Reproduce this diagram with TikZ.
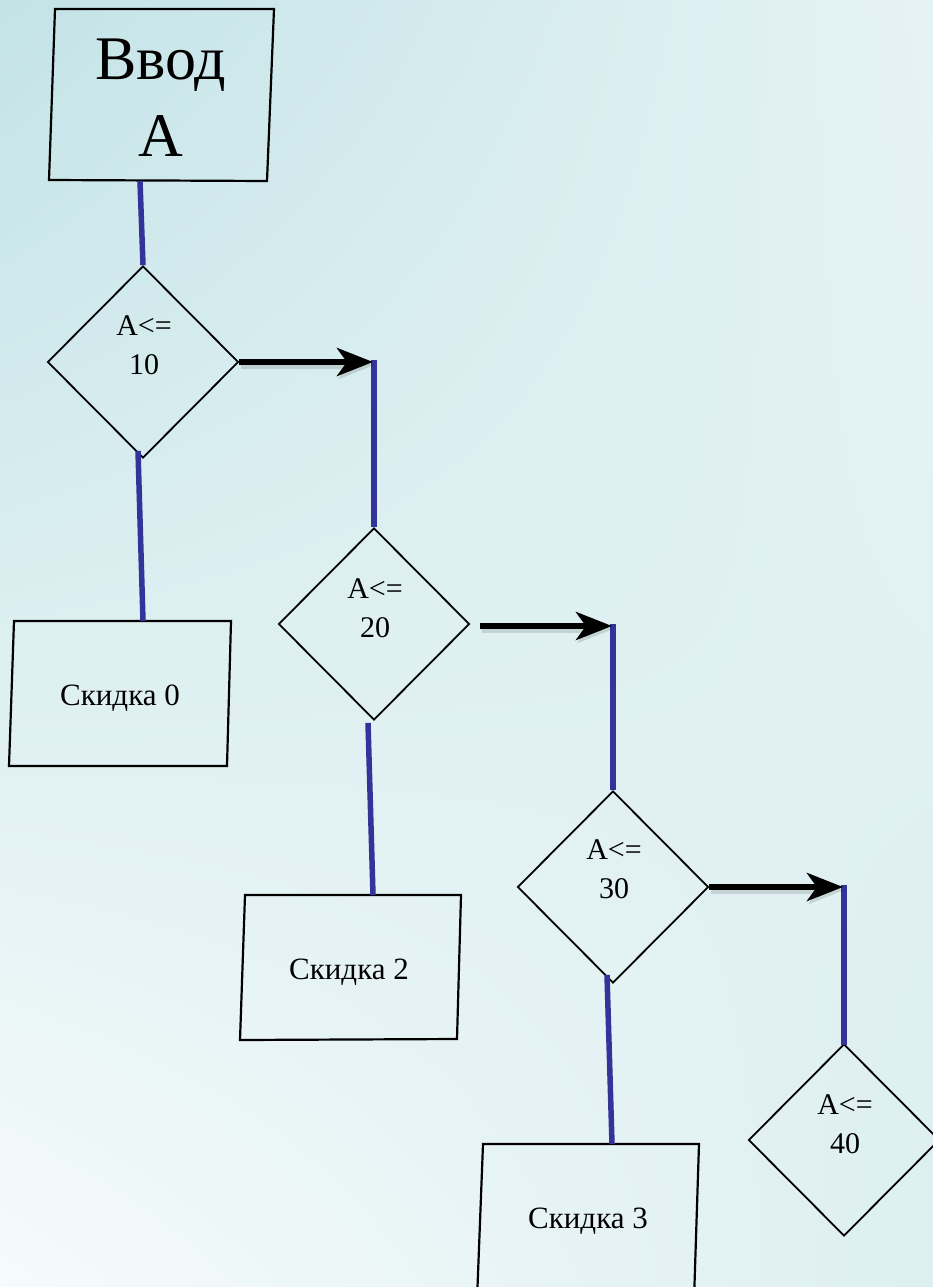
\documentclass[tikz,border=0pt]{standalone}
\usepackage{fontspec}
\setmainfont{Liberation Serif}
\usetikzlibrary{arrows.meta,shapes.geometric,shadings}
\definecolor{bgTL}{HTML}{C3E3E7}
\definecolor{bgTR}{HTML}{E6F3F5}
\definecolor{bgBL}{HTML}{F6FBFB}
\definecolor{bgBR}{HTML}{DDEFF1}
\definecolor{lineblue}{HTML}{333399}
\begin{document}
\begin{tikzpicture}[x=1pt,y=-1pt,
  blueline/.style={draw=lineblue, line width=5.5pt},
  flowarrow/.style={draw=black, line width=6pt, -{Stealth[length=36pt,width=28pt,inset=10pt]},
     preaction={draw=black, opacity=0.12, line width=8pt, transform canvas={shift={(1.5pt,-3pt)}}}},
  boxline/.style={draw=black, line width=2.2pt, line join=miter},
  decision/.style={diamond, draw=black, line width=1.8pt, minimum width=191pt, minimum height=192pt, inner sep=0pt, aspect=1},
  bigtxt/.style={font=\fontsize{62}{77}\selectfont, align=center, anchor=base, inner sep=0pt},
  condtxt/.style={font=\fontsize{30}{39}\selectfont, align=center, anchor=base, inner sep=0pt},
  boxtxt/.style={font=\fontsize{31}{37}\selectfont, anchor=base, inner sep=0pt}]
\useasboundingbox (0,0) rectangle (933,1287);
\shade[upper left=bgTL, upper right=bgTR, lower left=bgBL, lower right=bgBR] (0,0) rectangle (933,1287);

% input box
\coordinate (inTL) at (55,9);
\coordinate (inTR) at (274,9);
\coordinate (inBR) at (267,181);
\coordinate (inBL) at (49,180);
\draw[boxline] (inTL) -- (inTR) -- (inBR) -- (inBL) -- cycle;
\node[bigtxt] (inText) at (161,157) {Ввод\\А};
\coordinate (inOut) at (140,181);

% decisions
\node[decision] (d1) at (143,362) {};
\node[condtxt] (t1) at (144,374) {А<=\\10};
\node[decision] (d2) at (374,624) {};
\node[condtxt] (t2) at (375,637) {А<=\\20};
\node[decision] (d3) at (613,887) {};
\node[condtxt] (t3) at (614,898) {А<=\\30};
\node[decision] (d4) at (844,1140) {};
\node[condtxt] (t4) at (845,1153) {А<=\\40};

% result boxes
\draw[boxline] (14,621) coordinate (s0TL) -- (231,621) -- (227,766) -- (9,766) -- cycle;
\node[boxtxt] (s0) at (120,705) {Скидка 0};
\coordinate (s0In) at (143,621);
\draw[boxline] (245,895) coordinate (s2TL) -- (461,895) -- (457,1039) -- (240,1040) -- cycle;
\node[boxtxt] (s2) at (349,979) {Скидка 2};
\coordinate (s2In) at (373,895);
\draw[boxline] (483,1144) coordinate (s3TL) -- (699,1144) -- (694,1300) -- (477,1300) -- cycle;
\node[boxtxt] (s3) at (588,1228) {Скидка 3};
\coordinate (s3In) at (612,1144);

% junction points
\coordinate (j1) at (374,362);
\coordinate (j2) at (613,626);
\coordinate (j3) at (844,887);

% vertical connectors
\draw[blueline] (inOut) -- (d1.north);
\draw[blueline] ([xshift=-5pt,yshift=8pt]d1.south) -- (s0In);
\draw[blueline] ([xshift=-6pt,yshift=-2pt]d2.south) -- (s2In);
\draw[blueline] ([xshift=-6pt,yshift=9pt]d3.south) -- (s3In);
\draw[blueline] ([yshift=2pt]j1) -- (d2.north);
\draw[blueline] ([yshift=2pt]j2) -- (d3.north);
\draw[blueline] ([yshift=2pt]j3) -- ([yshift=-2pt]d4.north);

% arrows
\draw[flowarrow] (d1.east) -- ([xshift=-1pt]j1);
\draw[flowarrow] ([xshift=10pt,yshift=-2pt]d2.east) -- ([xshift=-1pt]j2);
\draw[flowarrow] (d3.east) -- ([xshift=-1pt]j3);
\end{tikzpicture}
\end{document}
